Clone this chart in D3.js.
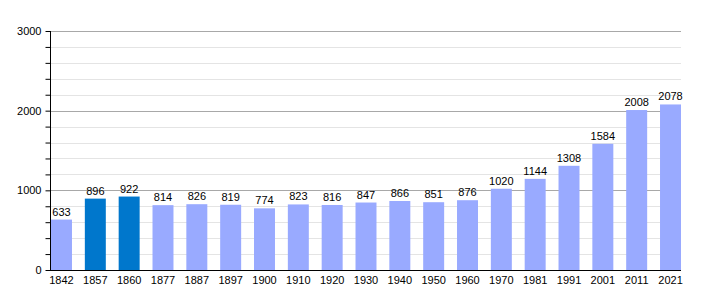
<!DOCTYPE html>
<html>
<head>
<meta charset="utf-8">
<script src="https://cdn.jsdelivr.net/npm/d3@7"></script>
<style>
	body { margin: 0; background: #fff; }
	svg text { font-family: "Liberation Sans", Arial, sans-serif; font-size: 11px; fill: #000; }
</style>
</head>
<body>
<div id="chart"></div>
<script>
const years = ["1842", "1857", "1860", "1877", "1887", "1897", "1900", "1910", "1920", "1930",
	"1940", "1950", "1960", "1970", "1981", "1991", "2001", "2011", "2021"];
const population = [633, 896, 922, 814, 826, 819, 774, 823, 816, 847,
	866, 851, 876, 1020, 1144, 1308, 1584, 2008, 2078];
const highlighted = ["1857", "1860"];
const yTicks = [0, 1000, 2000, 3000];

const W = 710, H = 300;
const margin = { top: 31, right: 29, bottom: 30, left: 50 };
const width = W - margin.left - margin.right,
	height = H - margin.top - margin.bottom;

const svg = d3
	.select("#chart")
	.append("svg")
	.attr("width", W)
	.attr("height", H)
	.append("g")
	.attr("transform", `translate(${margin.left},${margin.top})`);

const x = d3
	.scaleBand()
	.domain(years)
	.range([1, width])
	.paddingInner(0.38)
	.paddingOuter(0);

const y = d3.scaleLinear().domain([0, 3000]).range([height, 0]);

// minor grid every 200
svg
	.append("g")
	.selectAll("line")
	.data(d3.range(0, 3001, 200).filter((v) => v % 1000 !== 0))
	.enter()
	.append("line")
	.attr("x1", 0)
	.attr("x2", width)
	.attr("y1", (d) => Math.round(y(d)) + 0.5)
	.attr("y2", (d) => Math.round(y(d)) + 0.5)
	.style("stroke", "#e4e4e4");

// major grid
svg
	.append("g")
	.selectAll("line")
	.data(yTicks.filter((v) => v > 0))
	.enter()
	.append("line")
	.attr("x1", 0)
	.attr("x2", width)
	.attr("y1", (d) => Math.round(y(d)) + 0.5)
	.attr("y2", (d) => Math.round(y(d)) + 0.5)
	.style("stroke", "#a8a8a8");

// bars
svg
	.selectAll(".bar")
	.data(years)
	.enter()
	.append("rect")
	.attr("class", "bar")
	.attr("x", (d) => x(d))
	.attr("width", x.bandwidth())
	.attr("y", (d, i) => y(population[i]))
	.attr("height", (d, i) => height - y(population[i]))
	.style("fill", (d) => (highlighted.includes(d) ? "#0077cc" : "#99aaff"));

// value labels
svg
	.selectAll(".val")
	.data(years)
	.enter()
	.append("text")
	.attr("class", "val")
	.attr("x", (d) => x(d) + x.bandwidth() / 2)
	.attr("y", (d, i) => y(population[i]) - 4)
	.attr("text-anchor", "middle")
	.text((d, i) => population[i]);

// y axis
const yAxis = svg
	.append("g")
	.attr("transform", "translate(0.5,0)")
	.call(d3.axisLeft(y).tickValues(d3.range(0, 3001, 200)).tickSize(5).tickFormat((d) => (d % 1000 === 0 ? d : "")));
yAxis.select(".domain").attr("d", `M0,${y(3000)}V${height}`).style("stroke", "#000");
yAxis.selectAll(".tick line").style("stroke", "#000");
yAxis.selectAll(".tick text").attr("x", -9).style("font-size", "11px").style("font-family", null);

// x axis
const xAxis = svg
	.append("g")
	.attr("transform", `translate(0,${height + 0.5})`)
	.call(d3.axisBottom(x).tickSize(0).tickPadding(6));
xAxis.select(".domain").attr("d", `M0,0H${width}`).style("stroke", "#000");
xAxis.selectAll(".tick text").style("font-size", "11px").style("font-family", null);
</script>
</body>
</html>
